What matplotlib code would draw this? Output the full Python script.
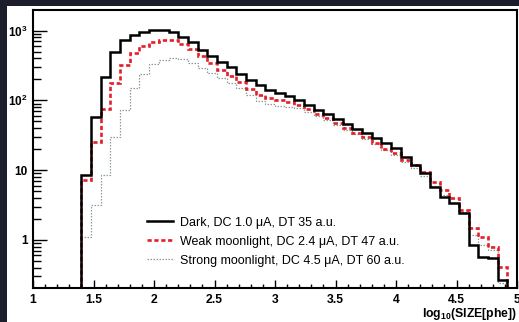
import numpy as np
import matplotlib
matplotlib.use("Agg")
import matplotlib.pyplot as plt
from matplotlib.patches import Rectangle
from matplotlib.ticker import FixedLocator, MultipleLocator, LogLocator, NullFormatter

plt.rcParams['font.family'] = ['Liberation Sans', 'DejaVu Sans']
plt.rcParams['mathtext.fontset'] = 'custom'
plt.rcParams['mathtext.rm'] = 'Liberation Sans'
plt.rcParams['mathtext.bf'] = 'Liberation Sans:bold'
plt.rcParams['mathtext.it'] = 'Liberation Sans:italic'

# ---- data: 50 bins over log10(SIZE) from 1.0 to 5.0 (width 0.08) ----
bin_edges = np.linspace(1.0, 5.0, 51)

dark = [0, 0, 0, 0, 0,
        8.5, 58, 216, 494, 733, 865, 965, 1020, 1020, 940,
        810, 687, 527, 433, 355, 301, 239, 196, 166, 141,
        128, 116, 101, 86, 73, 64, 54, 46, 39, 34,
        29, 24.5, 20.8, 15.5, 11.9, 9.1, 5.7, 4.1, 3.4, 2.4,
        0.85, 0.57, 0.55, 0.27, 0]

weak = [0, 0, 0, 0, 0,
        7.2, 25, 75, 178, 321, 478, 601, 687, 733, 733,
        643, 545, 433, 343, 273, 224, 183, 146, 120, 108,
        101, 95, 86, 75, 64, 56, 47, 40, 34, 30,
        24.5, 20, 17.6, 14, 11.9, 9.4, 6.8, 5.2, 4.0, 2.7,
        1.5, 1.1, 0.79, 0.41, 0]

strong = [0, 0, 0, 0, 0,
          1.1, 3.2, 8.5, 30, 73, 151, 239, 332, 379, 405,
          392, 343, 291, 247, 209, 178, 151, 120, 98, 89,
          83, 80, 78, 68, 60, 52, 44, 38, 33, 28,
          23.7, 19.5, 16.5, 13.1, 10.8, 8.3, 5.9, 4.4, 3.4, 2.5,
          1.18, 0.85, 0.72, 0.24, 0]

labels = ["Dark, DC 1.0 \u03bcA, DT 35 a.u.",
          "Weak moonlight, DC 2.4 \u03bcA, DT 47 a.u.",
          "Strong moonlight, DC 4.5 \u03bcA, DT 60 a.u."]

x_ticks = [1, 1.5, 2, 2.5, 3, 3.5, 4, 4.5, 5]
x_ticklabels = ["1", "1.5", "2", "2.5", "3", "3.5", "4", "4.5", "5"]
y_ticks = [1, 10, 100, 1000]
y_ticklabels = ["1", "10", r"$\mathbf{10^{2}}$", r"$\mathbf{10^{3}}$"]

YMIN, YMAX = 0.205, 1970

W, H = 519, 322
fig = plt.figure(figsize=(W / 100, H / 100), dpi=100)
fig.patch.set_facecolor('#1d1e2b')
fig.patches.append(Rectangle((7 / W, 0), 1 - 7 / W, 1 - 6 / H, transform=fig.transFigure,
                             facecolor='white', edgecolor='none', zorder=-10))

ax = fig.add_axes([33 / W, 34 / H, (517 - 33) / W, (288 - 10) / H])
ax.set_zorder(2)
ax.set_facecolor('white')

styles = [dict(color='black', lw=1.8, linestyle='-'),
          dict(color='#e5202a', lw=1.9, linestyle=(0, (1.6, 1.0))),
          dict(color='#8f9c96', lw=0.9, linestyle=(0, (1.2, 1.2)))]

for vals, st, lab in zip([strong, weak, dark], styles[::-1], labels[::-1]):
    v = np.maximum(np.asarray(vals, float), YMIN)
    ax.stairs(v, bin_edges, baseline=None, label=lab, **st)

ax.set_yscale('log')
ax.set_xlim(1, 5)
ax.set_ylim(YMIN, YMAX)

for s in ax.spines.values():
    s.set_linewidth(1.5)
    s.set_zorder(5)

ax.xaxis.set_major_locator(FixedLocator(x_ticks))
ax.set_xticklabels(x_ticklabels, fontweight='bold', fontsize=8.7)
ax.xaxis.set_minor_locator(MultipleLocator(0.1))
ax.yaxis.set_major_locator(FixedLocator(y_ticks))
ax.set_yticklabels(y_ticklabels, fontweight='bold', fontsize=8.5)
ax.yaxis.set_minor_locator(LogLocator(base=10, subs=np.arange(2, 10)))
ax.yaxis.set_minor_formatter(NullFormatter())

ax.tick_params(axis='x', which='major', direction='in', length=5.5, width=1.0, pad=4,
               top=False)
ax.tick_params(axis='x', which='minor', direction='in', length=2.6, width=1.0, top=False)
ax.tick_params(axis='y', which='major', direction='in', length=10, width=1.0, pad=4,
               right=False)
ax.tick_params(axis='y', which='minor', direction='in', length=5.5, width=1.0, right=False)

ax.text(1.0, -0.064, r"log$_{\mathbf{10}}$(SIZE[phe])", transform=ax.transAxes,
        ha='right', va='top', fontsize=8.8, fontweight='bold')

handles, labs = ax.get_legend_handles_labels()
leg = ax.legend(handles[::-1], labs[::-1], loc='upper left',
                bbox_to_anchor=(0.225, 0.274), frameon=False, fontsize=9,
                handlelength=2.1, handletextpad=0.55, labelspacing=0.55,
                borderaxespad=0)

fig.savefig('out.png', dpi=100, facecolor=fig.get_facecolor())
